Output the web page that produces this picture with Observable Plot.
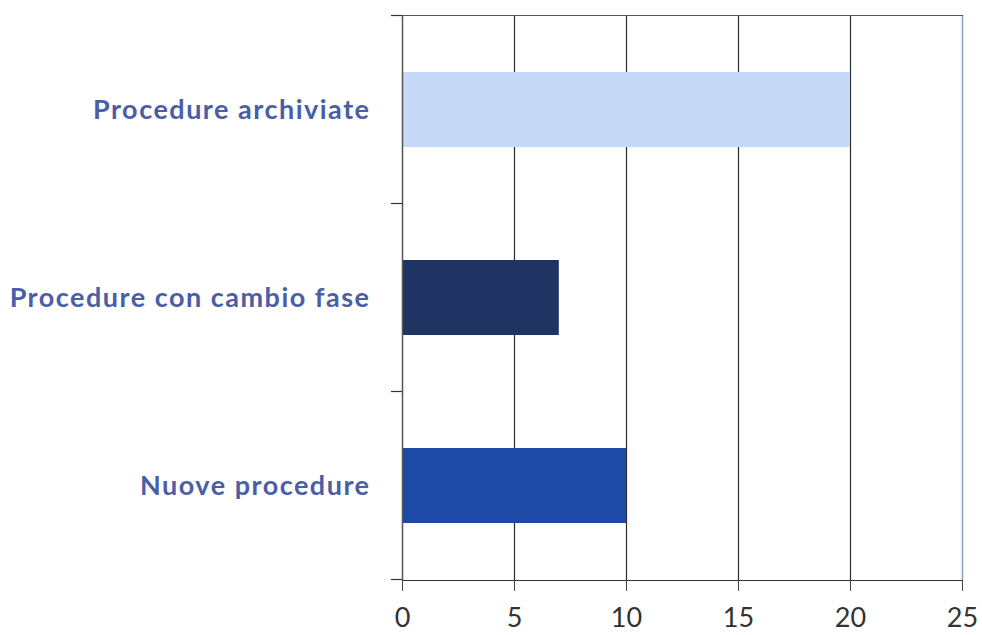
<!DOCTYPE html>
<html>
<head>
<meta charset="utf-8">
<script src="https://cdn.jsdelivr.net/npm/d3@7"></script>
<script src="https://cdn.jsdelivr.net/npm/@observablehq/plot@0.6"></script>
<style>
  html, body { margin: 0; padding: 0; background: #fff; }
  svg [aria-label="y-axis tick label"] text { letter-spacing: 1.5px; }
</style>
</head>
<body>
<div id="chart"></div>
<script>
// Procedure counts by type (top to bottom)
const categories = ["Procedure archiviate", "Procedure con cambio fase", "Nuove procedure"];
const values = [20, 7, 10];
const barColors = ["#c6d9f6", "#1f3463", "#1e4aa5"];
const xTicks = [0, 5, 10, 15, 20, 25];

const data = categories.map((category, i) => ({ category, value: values[i], color: barColors[i] }));

const plot = Plot.plot({
  width: 982,
  height: 635,
  marginLeft: 402,
  marginRight: 20,
  marginTop: 15,
  marginBottom: 55,
  style: { fontFamily: "Lato, 'Open Sans', sans-serif", background: "#fff" },
  x: { domain: [0, 25], ticks: xTicks },
  y: { domain: categories, paddingInner: 0.6, paddingOuter: 0.3 },
  marks: [
    // vertical gridlines
    Plot.ruleX(xTicks.slice(1, -1), { stroke: "#2a2a2a", strokeWidth: 1.2 }),
    // right border
    Plot.ruleX([25], { stroke: "#8d9cc2", strokeWidth: 1.5 }),
    // top border
    Plot.frame({ anchor: "top", stroke: "#555", strokeWidth: 1.2 }),
    Plot.barX(data, { x: "value", y: "category", fill: "color" }),
    // left axis line
    Plot.ruleX([0], { stroke: "#555", strokeWidth: 1.5 }),
    // bottom axis line
    Plot.frame({ anchor: "bottom", stroke: "#333", strokeWidth: 1.2 }),
    Plot.axisX({
      ticks: xTicks,
      tickSize: 11,
      tickPadding: 16,
      fontSize: 27,
      fill: "#333",
      stroke: "#444",
      label: null
    }),
    Plot.axisY({
      tickSize: 0,
      tickPadding: 32,
      fontSize: 27,
      fontWeight: "bold",
      fill: "#4a5ea6",
      label: null
    })
  ]
});

document.getElementById("chart").appendChild(plot);

// Tick marks on the category axis at the band boundaries
const y = plot.scale("y");
const x = plot.scale("x");
const x0 = x.apply(0);
const gap = (y.step - y.bandwidth) / 2;
const bounds = categories.map(c => y.apply(c) - gap);
bounds.push(y.apply(categories[categories.length - 1]) + y.bandwidth + gap);

const svg = d3.select(plot);
svg.append("g")
  .attr("stroke", "#333")
  .attr("stroke-width", 1.2)
  .selectAll("line")
  .data(bounds)
  .join("line")
  .attr("x1", x0 - 11)
  .attr("x2", x0)
  .attr("y1", d => d)
  .attr("y2", d => d);
</script>
</body>
</html>
